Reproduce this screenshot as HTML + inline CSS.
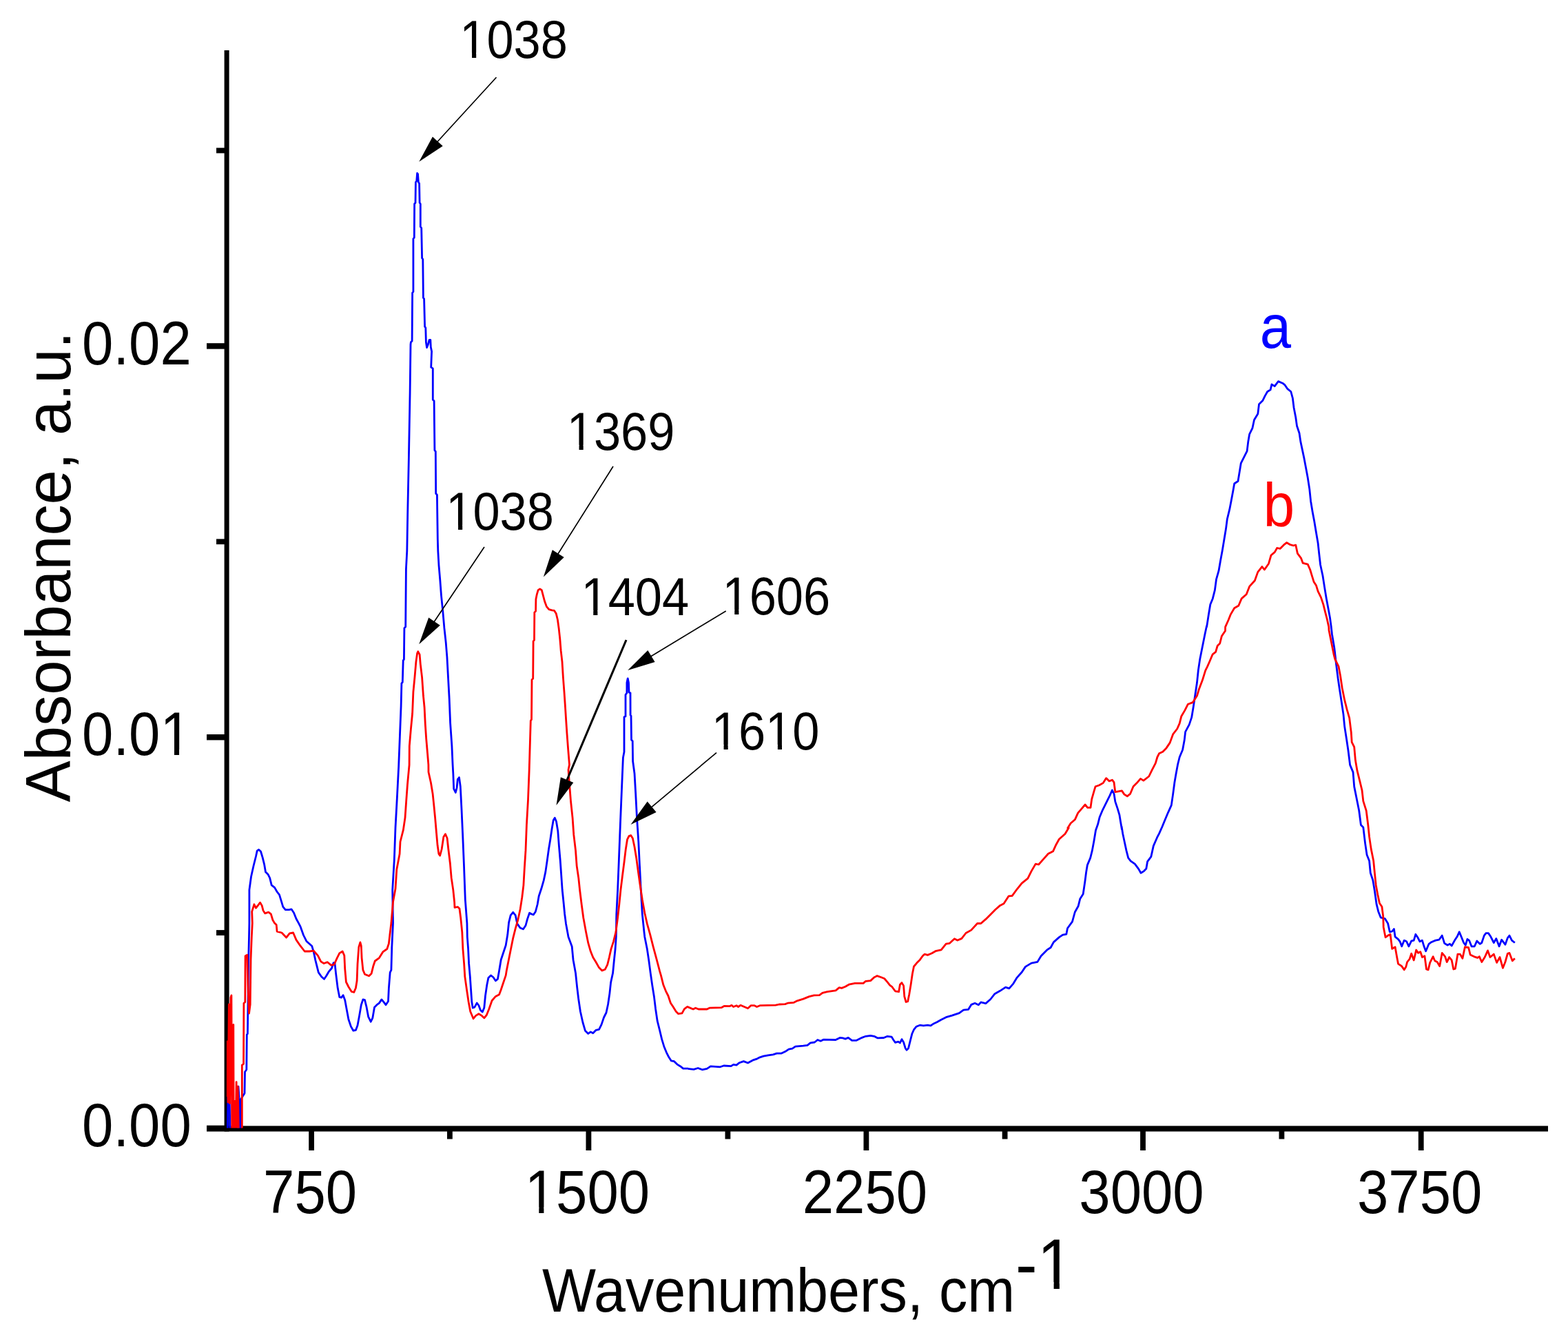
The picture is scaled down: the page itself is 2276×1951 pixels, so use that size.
<!DOCTYPE html>
<html lang="en"><head><meta charset="utf-8"><title>FTIR absorbance spectra</title>
<style>
html,body{margin:0;padding:0;background:#fff;}
body{width:2276px;height:1951px;overflow:hidden;}
svg{display:block;}
text{font-family:"Liberation Sans", sans-serif;}
</style></head><body>
<svg width="2276" height="1951" viewBox="0 0 2276 1951">
<rect width="2276" height="1951" fill="#fff"/>
<defs><clipPath id="plot"><rect x="328.9" y="0" width="2276" height="1637.6"/></clipPath></defs>

<g fill="#000">
<rect x="325.6" y="73" width="7.0" height="1569.5"/>
<rect x="300" y="1633.7" width="29.1" height="8.4"/>
<rect x="300" y="1066.0" width="29.1" height="8.4"/>
<rect x="300" y="498.2" width="29.1" height="8.4"/>
<rect x="314" y="1350.1" width="15.1" height="7.8"/>
<rect x="314" y="782.4" width="15.1" height="7.8"/>
<rect x="314" y="214.6" width="15.1" height="7.8"/>
</g>
<g fill="#000">
<rect x="300" y="1634.4" width="1947" height="8.1"/>
<rect x="448.2" y="1638.4" width="7.8" height="31.6"/>
<rect x="850.5" y="1638.4" width="7.8" height="31.6"/>
<rect x="1253.5" y="1638.4" width="7.8" height="31.6"/>
<rect x="1655.1" y="1638.4" width="7.8" height="31.6"/>
<rect x="2058.8" y="1638.4" width="7.8" height="31.6"/>
<rect x="649.0" y="1638.4" width="7.8" height="15.1"/>
<rect x="1052.5" y="1638.4" width="7.8" height="15.1"/>
<rect x="1454.7" y="1638.4" width="7.8" height="15.1"/>
<rect x="1856.5" y="1638.4" width="7.8" height="15.1"/>
</g>
<g clip-path="url(#plot)" fill="none" stroke-linejoin="round" stroke-linecap="butt" stroke-width="2.8">
<path stroke="#0000ff" d="M330.3,1640.9 L331.0,1588.6 L333.3,1600.0 L333.9,1640.9 L345.4,1640.9 L346.0,1577.2 L347.0,1591.9 L348.3,1640.9 L349.6,1640.9 L349.0,1596.8 L355.0,1587.0 L355.5,1556.0 L357.8,1552.7 L358.3,1502.1 L359.4,1500.4 L359.9,1461.2 L360.7,1392.7 L361.5,1360.0 L361.9,1340.0 L361.9,1291.9 L364.5,1272.7 L368.0,1257.0 L371.5,1243.0 L373.2,1235.1 L375.5,1233.4 L378.5,1236.0 L381.1,1244.7 L383.7,1255.2 L385.5,1265.7 L389.0,1269.2 L391.6,1274.4 L394.2,1284.9 L398.6,1288.4 L402.1,1294.5 L405.5,1298.9 L408.2,1307.6 L410.8,1316.3 L414.3,1320.7 L419.5,1320.7 L423.0,1319.8 L426.5,1325.0 L430.0,1333.8 L433.5,1340.1 L436.1,1345.2 L440.5,1357.5 L444.8,1366.2 L452.7,1373.2 L455.3,1381.9 L457.9,1394.1 L462.3,1411.6 L466.6,1417.7 L470.5,1421.2 L473.6,1416.8 L477.1,1410.7 L481.5,1405.5 L484.1,1397.6 L485.9,1397.6 L487.6,1413.3 L490.2,1434.3 L492.8,1447.4 L495.5,1448.2 L498.1,1444.7 L500.7,1451.7 L503.3,1465.7 L505.9,1479.7 L509.4,1490.1 L512.9,1496.2 L516.4,1495.4 L519.0,1488.4 L521.6,1474.4 L524.3,1458.7 L526.9,1450.9 L529.5,1451.7 L532.1,1462.2 L534.7,1476.2 L538.2,1483.2 L540.8,1477.9 L543.5,1462.2 L547.0,1458.7 L550.4,1456.1 L553.9,1450.9 L557.4,1455.2 L560.0,1458.7 L563.5,1453.5 L564.4,1434.3 L566.2,1411.6 L567.9,1408.1 L568.8,1374.9 L570.5,1340.0 L569.7,1291.9 L572.3,1248.2 L574.0,1201.1 L576.3,1159.2 L578.7,1112.1 L582.1,1025.2 L582.9,992.0 L584.3,990.3 L585.2,958.9 L586.4,957.1 L586.9,911.7 L588.7,910.0 L589.4,826.2 L590.8,800.0 L591.7,746.2 L593.4,664.1 L595.1,569.8 L596.0,500.0 L596.4,496.8 L598.1,495.0 L598.6,425.2 L599.9,423.5 L599.9,346.6 L601.3,344.9 L601.6,296.0 L603.0,294.3 L603.4,264.6 L604.7,262.8 L605.6,251.5 L606.5,252.4 L607.4,264.6 L608.6,266.3 L609.1,294.3 L610.3,296.0 L610.3,329.2 L611.7,330.9 L612.6,374.6 L613.8,376.3 L614.4,432.2 L615.6,433.9 L616.6,474.1 L617.8,475.8 L618.4,496.8 L619.6,504.6 L621.3,500.3 L623.1,493.3 L624.8,493.3 L625.3,503.8 L626.6,510.1 L625.7,533.2 L628.3,534.9 L628.3,580.3 L630.1,582.1 L630.9,653.6 L632.3,655.4 L632.7,716.5 L634.4,718.2 L635.3,782.8 L635.8,800.0 L637.0,820.9 L638.8,841.9 L640.5,864.6 L642.8,887.3 L644.9,911.7 L647.2,932.7 L648.9,953.6 L650.5,983.3 L652.2,1014.7 L653.6,1049.7 L655.9,1082.8 L657.1,1110.1 L657.8,1122.5 L658.7,1145.2 L661.3,1150.5 L663.1,1143.5 L664.3,1131.3 L666.5,1128.6 L668.3,1141.7 L670.0,1174.9 L671.8,1215.1 L673.5,1257.0 L675.3,1305.8 L677.9,1340.1 L678.3,1360.0 L679.6,1377.5 L680.6,1398.4 L682.3,1417.6 L683.6,1436.8 L684.8,1454.3 L686.2,1463.0 L688.8,1462.1 L692.3,1456.0 L694.9,1459.5 L697.5,1466.5 L700.2,1469.1 L702.8,1463.0 L704.5,1445.5 L706.8,1429.8 L708.9,1419.4 L712.4,1415.9 L715.9,1418.5 L719.4,1423.7 L722.5,1421.1 L724.6,1408.9 L727.2,1393.3 L730.7,1382.8 L734.2,1372.3 L736.8,1356.6 L738.6,1339.2 L741.2,1328.7 L744.7,1324.3 L748.2,1328.7 L750.8,1340.9 L755.1,1347.0 L759.5,1348.8 L763.0,1343.5 L765.6,1333.9 L768.6,1325.2 L771.7,1327.0 L774.4,1327.8 L777.3,1323.5 L780.1,1313.0 L782.2,1300.8 L785.7,1290.3 L789.2,1278.1 L791.8,1265.9 L794.1,1250.1 L796.5,1232.7 L798.8,1218.7 L801.1,1203.0 L803.2,1190.8 L805.3,1187.3 L807.5,1192.5 L809.8,1206.5 L811.5,1229.2 L813.3,1250.1 L815.0,1274.6 L816.2,1292.0 L818.0,1309.5 L819.7,1327.0 L821.5,1340.9 L824.1,1354.9 L825.0,1360.0 L830.2,1374.0 L832.0,1393.2 L835.5,1412.4 L837.7,1433.3 L839.8,1450.8 L842.4,1468.2 L845.9,1484.0 L849.4,1496.2 L853.8,1500.5 L857.3,1497.9 L860.8,1499.7 L865.1,1495.3 L869.5,1494.4 L873.0,1487.4 L876.5,1477.0 L880.0,1470.0 L882.6,1457.8 L884.9,1442.1 L886.6,1426.3 L889.6,1412.4 L891.3,1394.9 L893.1,1377.5 L894.3,1360.0 L894.8,1327.0 L896.6,1292.0 L898.3,1250.1 L900.6,1190.8 L902.7,1140.2 L904.4,1100.0 L906.0,1091.4 L906.0,1040.8 L908.0,1039.9 L908.0,1008.5 L909.9,1005.9 L909.9,991.0 L911.2,984.9 L912.5,991.0 L913.0,1005.0 L915.0,1005.9 L915.1,1038.2 L916.0,1039.0 L916.5,1074.0 L918.2,1075.7 L918.6,1105.0 L921.0,1122.7 L922.7,1152.4 L924.5,1187.3 L926.8,1222.2 L928.5,1257.1 L930.3,1292.0 L932.3,1327.0 L935.0,1353.1 L935.8,1360.0 L939.3,1377.5 L941.9,1394.9 L944.2,1412.4 L946.7,1429.8 L949.5,1447.3 L951.6,1464.7 L954.2,1482.2 L957.7,1496.2 L960.6,1508.4 L963.8,1518.9 L967.3,1527.6 L970.8,1534.6 L974.2,1539.8 L978.6,1540.7 L983.0,1545.1 L987.3,1547.7 L991.7,1551.2 L998.7,1551.2 L1000.0,1551.7 L1007.0,1552.3 L1013.1,1550.5 L1019.2,1552.8 L1026.2,1551.4 L1031.4,1547.9 L1045.4,1548.8 L1050.6,1547.0 L1061.1,1547.6 L1064.6,1545.3 L1069.0,1546.2 L1073.3,1542.7 L1079.4,1540.6 L1085.5,1543.0 L1092.5,1539.2 L1097.8,1537.4 L1103.0,1534.8 L1108.2,1533.1 L1115.2,1531.8 L1122.2,1530.8 L1127.4,1529.1 L1134.4,1529.1 L1139.7,1526.6 L1144.9,1523.1 L1150.1,1522.1 L1154.5,1519.1 L1165.9,1518.2 L1172.0,1517.4 L1176.3,1513.9 L1182.4,1513.0 L1186.8,1509.5 L1191.2,1511.2 L1195.5,1509.1 L1213.0,1509.5 L1219.1,1506.4 L1223.5,1506.9 L1227.0,1508.1 L1231.3,1506.4 L1236.6,1510.4 L1242.7,1510.4 L1249.7,1506.9 L1256.6,1504.3 L1263.6,1503.4 L1268.9,1504.3 L1274.1,1506.9 L1282.8,1506.5 L1288.1,1504.3 L1294.2,1505.1 L1296.8,1509.5 L1299.4,1513.3 L1303.8,1512.1 L1306.4,1513.9 L1309.0,1508.6 L1311.6,1513.0 L1314.2,1521.7 L1316.0,1524.3 L1318.6,1521.7 L1321.2,1511.2 L1323.8,1500.8 L1326.5,1494.7 L1330.0,1490.3 L1335.2,1488.2 L1340.4,1488.9 L1346.5,1488.2 L1350.9,1488.9 L1355.3,1485.9 L1360.0,1483.7 L1366.2,1480.2 L1373.2,1476.7 L1381.9,1474.1 L1392.4,1470.6 L1398.5,1466.2 L1405.5,1465.4 L1409.8,1458.4 L1415.1,1456.3 L1420.3,1458.7 L1423.8,1454.9 L1430.8,1456.6 L1437.8,1450.5 L1443.9,1442.7 L1451.7,1438.3 L1459.6,1433.1 L1464.8,1434.8 L1470.9,1427.8 L1476.2,1419.1 L1483.2,1411.2 L1488.4,1403.4 L1497.1,1398.1 L1505.9,1396.4 L1511.1,1387.7 L1519.8,1378.9 L1525.1,1375.5 L1529.4,1367.6 L1537.3,1360.6 L1542.5,1357.1 L1547.8,1356.2 L1549.5,1347.5 L1556.5,1337.9 L1560.3,1324.0 L1565.2,1315.2 L1567.8,1304.7 L1572.2,1297.8 L1574.8,1280.3 L1576.6,1266.3 L1578.3,1255.9 L1582.7,1245.4 L1585.3,1234.9 L1587.9,1220.9 L1590.5,1205.2 L1593.5,1196.8 L1596.1,1186.3 L1600.5,1175.8 L1605.7,1165.4 L1610.9,1154.9 L1614.4,1147.0 L1617.0,1152.3 L1618.8,1163.6 L1622.3,1174.1 L1624.9,1182.8 L1626.6,1193.3 L1628.4,1203.8 L1628.1,1200.0 L1629.8,1210.5 L1632.4,1222.7 L1635.0,1234.9 L1637.7,1245.4 L1641.2,1249.8 L1647.3,1254.1 L1652.5,1261.1 L1656.0,1267.2 L1660.4,1264.6 L1663.8,1261.1 L1665.6,1250.6 L1670.8,1243.6 L1674.3,1227.9 L1679.6,1215.7 L1682.5,1210.1 L1686.9,1200.3 L1691.2,1189.8 L1695.6,1179.3 L1700.3,1168.9 L1702.6,1153.1 L1704.9,1135.7 L1707.0,1123.5 L1709.6,1109.5 L1712.2,1099.0 L1716.6,1088.5 L1719.2,1074.6 L1720.6,1062.4 L1726.2,1051.9 L1729.7,1041.4 L1732.3,1025.7 L1734.9,1008.2 L1737.5,990.8 L1739.3,973.3 L1741.9,955.9 L1745.4,938.4 L1748.9,920.9 L1751.5,908.7 L1751.6,910.1 L1754.2,893.3 L1756.8,877.6 L1760.3,868.9 L1763.4,856.6 L1765.5,840.9 L1769.0,828.7 L1771.7,813.0 L1774.3,799.0 L1776.9,783.3 L1779.5,767.6 L1781.3,753.6 L1784.7,739.7 L1787.4,725.7 L1790.0,711.7 L1791.7,702.0 L1797.0,698.5 L1799.6,682.8 L1801.3,672.3 L1805.7,663.6 L1810.1,654.9 L1811.8,640.9 L1813.6,630.4 L1817.9,621.7 L1820.5,609.5 L1825.8,600.8 L1827.5,586.8 L1832.8,581.6 L1836.2,574.6 L1839.7,568.5 L1844.1,565.9 L1845.9,558.0 L1850.2,560.6 L1855.5,553.6 L1861.6,556.2 L1865.1,558.9 L1868.5,564.1 L1873.8,568.5 L1876.4,578.1 L1878.1,592.0 L1880.8,606.0 L1882.5,618.2 L1886.0,628.7 L1887.8,640.9 L1890.4,653.1 L1893.0,665.4 L1895.6,679.3 L1898.2,693.3 L1900.8,710.1 L1902.6,727.4 L1905.2,743.2 L1907.8,757.1 L1910.4,772.8 L1913.1,788.5 L1914.8,804.3 L1916.6,820.0 L1920.0,835.7 L1922.7,853.1 L1925.3,868.9 L1927.9,882.8 L1930.5,896.8 L1932.3,910.1 L1933.4,920.2 L1936.9,941.1 L1939.5,963.8 L1942.1,984.7 L1944.7,1002.2 L1947.4,1019.7 L1950.0,1037.1 L1951.7,1054.6 L1954.4,1072.0 L1957.0,1089.5 L1959.6,1110.4 L1964.0,1120.9 L1965.7,1141.9 L1969.2,1159.3 L1972.7,1176.8 L1975.4,1197.5 L1978.8,1200.9 L1981.5,1223.6 L1984.1,1241.1 L1987.6,1249.8 L1989.3,1267.3 L1992.8,1277.8 L1995.4,1293.5 L1998.1,1312.7 L2000.7,1323.2 L2004.2,1331.9 L2010.3,1333.6 L2014.6,1340.6 L2017.3,1352.8 L2020.7,1352.0 L2023.4,1348.5 L2025.1,1359.8 L2029.5,1363.3 L2032.1,1366.8 L2034.7,1373.8 L2038.2,1365.1 L2041.7,1366.8 L2044.8,1373.8 L2048.7,1365.9 L2052.2,1365.1 L2054.8,1356.3 L2058.3,1361.6 L2060.9,1366.8 L2064.4,1365.1 L2067.0,1373.8 L2069.6,1380.8 L2074.0,1370.3 L2077.5,1367.7 L2083.6,1365.1 L2088.8,1364.2 L2093.2,1358.1 L2096.7,1369.4 L2101.1,1372.0 L2104.5,1370.3 L2107.2,1372.9 L2111.5,1365.1 L2115.0,1359.8 L2118.2,1352.8 L2121.1,1359.8 L2124.6,1368.5 L2127.2,1372.0 L2129.9,1363.3 L2132.5,1365.1 L2136.0,1373.8 L2140.3,1373.8 L2143.8,1365.9 L2148.2,1370.3 L2150.8,1368.5 L2154.3,1358.1 L2156.9,1354.6 L2160.4,1354.6 L2163.9,1359.8 L2168.3,1368.5 L2171.8,1362.4 L2176.1,1373.8 L2179.6,1364.2 L2184.9,1371.2 L2188.3,1361.6 L2191.0,1358.1 L2194.5,1365.1 L2198.8,1368.5"/>
<path stroke="#ff0000" d="M329.4,1591.9 L329.7,1511.9 L331.0,1600.0 L332.3,1458.0 L333.5,1601.7 L334.3,1547.8 L334.9,1448.2 L335.9,1444.9 L336.7,1640.9 L337.5,1489.0 L338.8,1487.4 L339.2,1640.9 L340.8,1598.4 L342.1,1640.9 L343.1,1570.6 L344.1,1640.9 L345.2,1577.2 L346.4,1640.9 L351.3,1640.9 L351.3,1546.2 L353.5,1544.5 L353.9,1456.3 L355.8,1454.7 L356.1,1387.8 L358.8,1386.1 L359.9,1430.2 L361.5,1471.0 L363.2,1458.0 L364.0,1392.7 L365.3,1360.0 L366.3,1340.0 L365.7,1323.3 L368.9,1312.8 L371.5,1318.1 L375.0,1313.7 L377.6,1310.2 L380.2,1314.6 L382.0,1321.6 L384.6,1325.9 L389.8,1324.2 L393.3,1326.8 L395.9,1335.5 L398.6,1340.1 L401.2,1342.6 L402.1,1352.2 L409.0,1354.0 L415.7,1360.9 L420.4,1354.8 L425.6,1354.0 L430.0,1364.4 L436.1,1373.2 L442.2,1381.0 L449.2,1381.0 L455.3,1380.2 L461.4,1387.1 L465.8,1395.9 L470.1,1398.5 L475.4,1396.7 L480.6,1401.1 L485.0,1400.2 L489.3,1390.6 L492.8,1383.6 L497.2,1381.0 L499.8,1387.1 L500.7,1406.3 L502.4,1425.5 L505.9,1432.5 L510.3,1439.5 L513.8,1440.4 L516.4,1434.3 L518.1,1423.8 L519.0,1399.4 L520.8,1374.9 L522.9,1367.9 L524.3,1373.2 L525.1,1390.6 L526.9,1408.1 L529.5,1414.2 L535.6,1416.8 L539.1,1413.3 L541.7,1402.8 L544.3,1395.0 L550.4,1390.6 L555.7,1381.9 L561.8,1377.5 L564.4,1369.7 L566.2,1354.0 L567.9,1340.0 L570.5,1309.3 L574.0,1290.1 L575.8,1262.2 L580.1,1239.5 L581.0,1222.0 L585.4,1204.6 L588.0,1187.1 L589.7,1162.7 L591.5,1138.2 L594.1,1110.3 L594.3,1082.8 L596.4,1058.4 L598.6,1035.7 L599.9,1004.3 L602.1,981.6 L603.9,960.6 L605.6,948.4 L606.8,945.8 L609.1,950.1 L610.3,964.1 L612.6,983.3 L614.4,1009.5 L616.1,1027.0 L617.3,1051.4 L618.7,1072.3 L620.5,1093.3 L621.9,1110.1 L622.0,1120.8 L625.5,1136.5 L628.1,1152.2 L629.9,1169.7 L631.6,1187.1 L633.4,1208.1 L635.1,1227.3 L636.9,1239.5 L638.6,1242.1 L641.2,1232.5 L643.8,1215.1 L646.5,1210.7 L649.1,1216.8 L650.8,1232.5 L653.4,1253.5 L655.2,1274.4 L657.8,1291.9 L659.6,1309.3 L660.0,1317.4 L664.4,1316.5 L667.0,1319.1 L668.7,1332.2 L670.8,1353.1 L671.9,1377.5 L673.6,1398.4 L674.8,1417.6 L677.5,1436.8 L680.1,1454.3 L682.7,1468.2 L687.1,1478.7 L690.6,1474.4 L694.9,1471.7 L699.3,1474.4 L702.8,1477.8 L706.3,1473.5 L709.8,1464.7 L714.1,1452.5 L719.4,1446.4 L724.6,1443.8 L727.2,1436.8 L730.7,1426.3 L734.2,1415.9 L735.1,1410.1 L737.7,1396.8 L741.2,1379.3 L744.7,1361.9 L748.2,1347.9 L751.7,1335.7 L755.1,1320.0 L757.8,1302.5 L759.9,1285.1 L761.3,1260.6 L763.0,1234.4 L764.4,1197.8 L766.5,1161.1 L768.2,1117.5 L770.3,1046.2 L771.5,1044.4 L772.0,986.8 L773.7,985.1 L774.1,930.9 L775.5,929.2 L775.8,889.0 L777.6,887.3 L777.9,869.8 L779.3,862.8 L781.1,856.7 L783.7,855.0 L786.3,856.7 L788.4,864.6 L790.7,873.3 L793.3,880.3 L796.8,884.7 L801.2,885.9 L804.6,886.4 L807.3,890.8 L809.4,899.5 L811.1,911.7 L812.8,927.4 L814.2,944.9 L816.0,960.6 L817.4,983.3 L819.1,1006.0 L820.4,1025.2 L821.6,1044.4 L823.0,1065.4 L824.7,1088.1 L826.5,1110.1 L825.0,1117.5 L826.7,1140.2 L828.5,1162.8 L831.1,1187.3 L832.8,1211.7 L835.5,1234.4 L837.2,1257.1 L839.8,1274.6 L841.6,1292.0 L844.2,1313.0 L846.8,1332.2 L850.3,1351.4 L853.8,1368.9 L857.3,1381.1 L860.8,1389.8 L865.1,1396.8 L869.5,1404.6 L873.9,1409.0 L878.2,1407.3 L881.7,1400.3 L884.3,1389.8 L887.0,1377.6 L890.4,1367.1 L893.9,1353.1 L896.6,1332.2 L898.8,1313.0 L900.9,1292.0 L903.5,1271.1 L906.2,1250.1 L908.3,1232.7 L910.5,1218.7 L913.1,1213.5 L915.8,1212.6 L918.4,1217.0 L921.0,1229.2 L923.6,1244.9 L926.2,1264.1 L928.9,1283.3 L932.3,1306.0 L935.8,1325.2 L939.3,1340.9 L943.7,1356.6 L948.1,1374.1 L953.3,1393.3 L957.7,1410.1 L959.4,1415.9 L962.9,1429.8 L966.4,1438.6 L969.9,1445.5 L973.4,1456.0 L976.9,1461.3 L981.2,1468.2 L984.7,1471.7 L990.0,1470.9 L993.4,1464.7 L997.8,1461.3 L1000.0,1462.4 L1006.1,1465.0 L1009.6,1463.2 L1014.0,1465.0 L1026.2,1465.0 L1029.7,1463.2 L1047.1,1462.7 L1051.5,1460.3 L1059.4,1460.6 L1062.0,1459.2 L1064.6,1461.5 L1069.0,1459.7 L1071.6,1461.5 L1075.1,1459.2 L1080.3,1461.5 L1085.5,1463.8 L1089.9,1459.7 L1095.1,1459.7 L1098.6,1461.5 L1103.0,1459.7 L1125.7,1459.2 L1130.9,1458.0 L1139.7,1457.6 L1143.2,1456.2 L1151.9,1455.4 L1157.1,1452.8 L1165.9,1450.1 L1174.6,1446.6 L1181.6,1444.9 L1189.4,1444.6 L1193.8,1441.4 L1200.8,1439.7 L1213.0,1437.9 L1218.2,1433.6 L1221.7,1434.4 L1227.0,1432.3 L1232.2,1429.2 L1240.9,1427.4 L1253.1,1427.4 L1256.6,1424.3 L1263.6,1423.6 L1268.9,1418.7 L1273.2,1416.6 L1279.3,1418.7 L1283.7,1420.5 L1288.1,1425.7 L1291.6,1430.1 L1295.0,1432.7 L1299.4,1438.8 L1304.6,1439.7 L1306.4,1429.2 L1309.0,1426.6 L1311.6,1430.9 L1312.8,1446.6 L1315.1,1454.5 L1317.7,1453.6 L1319.8,1443.2 L1322.1,1429.2 L1324.4,1413.5 L1326.5,1403.0 L1330.8,1397.8 L1335.2,1393.4 L1339.6,1387.3 L1342.2,1385.2 L1346.5,1386.4 L1352.7,1383.8 L1357.9,1380.7 L1366.2,1378.9 L1373.2,1370.2 L1378.4,1369.3 L1385.4,1362.7 L1389.8,1365.0 L1395.9,1362.4 L1402.0,1354.5 L1409.8,1350.1 L1418.6,1340.5 L1423.8,1340.5 L1430.8,1334.4 L1437.8,1327.4 L1444.7,1320.5 L1451.7,1314.4 L1457.0,1311.7 L1464.0,1300.9 L1469.2,1300.4 L1476.2,1290.8 L1483.2,1282.1 L1491.9,1275.1 L1497.1,1264.6 L1503.2,1254.1 L1507.6,1255.0 L1514.6,1247.1 L1521.6,1239.3 L1528.5,1235.8 L1532.9,1226.2 L1537.3,1218.3 L1546.0,1210.5 L1551.2,1201.7 L1549.8,1202.0 L1554.2,1195.0 L1560.3,1189.8 L1564.7,1180.2 L1569.9,1174.1 L1575.1,1168.0 L1578.6,1172.3 L1583.0,1172.3 L1584.7,1160.1 L1588.2,1147.9 L1590.0,1141.8 L1595.2,1140.0 L1601.3,1136.6 L1605.7,1129.6 L1610.1,1133.9 L1614.4,1132.2 L1617.0,1135.7 L1618.8,1149.7 L1623.2,1148.8 L1628.4,1147.9 L1631.9,1153.1 L1636.2,1155.8 L1640.6,1152.3 L1645.0,1141.8 L1650.2,1136.6 L1655.5,1130.4 L1659.8,1133.1 L1667.7,1127.0 L1672.0,1118.2 L1677.3,1107.8 L1679.9,1099.0 L1682.5,1093.8 L1687.8,1091.2 L1693.0,1085.9 L1698.2,1078.1 L1702.6,1065.9 L1708.7,1058.0 L1712.2,1050.1 L1714.8,1039.7 L1720.0,1030.9 L1724.4,1022.2 L1731.4,1019.6 L1737.5,1010.0 L1740.1,1001.3 L1745.4,987.3 L1749.7,973.3 L1752.3,968.1 L1755.8,960.2 L1760.2,949.8 L1764.6,946.3 L1767.2,937.5 L1770.7,934.0 L1773.3,923.6 L1778.5,915.7 L1778.6,910.1 L1783.0,900.3 L1786.5,891.6 L1791.7,882.8 L1797.8,879.3 L1802.2,868.9 L1809.2,862.7 L1813.6,851.4 L1821.4,842.7 L1825.8,830.4 L1831.9,822.6 L1835.4,827.0 L1841.5,818.2 L1845.0,806.0 L1850.2,801.6 L1853.7,795.5 L1858.1,796.4 L1863.3,791.2 L1867.7,787.7 L1872.0,790.3 L1877.3,792.0 L1880.8,791.2 L1883.4,803.4 L1888.6,810.4 L1891.2,817.4 L1898.2,819.1 L1901.7,827.0 L1904.3,835.7 L1907.0,844.4 L1910.4,849.7 L1913.1,858.4 L1917.4,867.1 L1920.9,877.6 L1923.5,888.1 L1926.2,898.5 L1928.8,910.1 L1929.0,914.9 L1932.5,932.4 L1936.0,949.8 L1937.8,956.8 L1943.0,967.3 L1945.6,981.3 L1948.2,998.7 L1951.7,1016.2 L1955.2,1030.1 L1958.7,1042.4 L1961.3,1063.3 L1962.2,1077.3 L1965.7,1084.3 L1967.4,1103.5 L1970.1,1119.2 L1973.6,1133.1 L1977.0,1147.1 L1978.8,1162.8 L1983.2,1176.8 L1985.8,1197.5 L1987.6,1214.9 L1990.2,1232.4 L1993.7,1249.8 L1995.4,1267.3 L1997.2,1284.7 L1999.8,1298.7 L2002.4,1310.9 L2005.9,1316.2 L2007.7,1330.1 L2008.2,1345.9 L2011.1,1360.7 L2014.6,1358.1 L2018.1,1356.3 L2020.7,1377.3 L2025.1,1374.7 L2027.7,1389.5 L2029.5,1399.1 L2034.7,1402.6 L2038.2,1407.8 L2040.8,1403.5 L2042.6,1396.5 L2046.1,1392.1 L2048.7,1384.3 L2052.2,1393.9 L2055.7,1379.0 L2058.3,1383.4 L2061.8,1381.6 L2064.4,1389.5 L2067.9,1387.8 L2070.5,1407.0 L2073.1,1407.8 L2075.7,1397.4 L2080.1,1388.6 L2082.7,1394.7 L2086.2,1396.5 L2089.7,1402.6 L2093.2,1383.4 L2097.6,1388.6 L2100.2,1396.5 L2103.7,1389.5 L2107.2,1393.9 L2109.8,1407.0 L2112.4,1406.1 L2115.9,1385.1 L2119.4,1385.1 L2122.9,1391.2 L2126.4,1374.7 L2131.6,1375.5 L2134.2,1386.0 L2139.5,1388.6 L2144.7,1390.4 L2147.3,1388.6 L2150.8,1396.5 L2155.2,1389.5 L2159.5,1379.9 L2163.0,1389.5 L2168.3,1385.1 L2172.6,1397.4 L2177.0,1389.5 L2181.4,1405.2 L2184.9,1396.5 L2188.3,1384.3 L2191.0,1383.4 L2195.3,1394.7 L2198.8,1391.2"/>
</g>
<g transform="translate(119.10,1664.00) scale(1,1.1000)"><text font-size="81.5" fill="#000">0.00</text></g>
<g transform="translate(119.10,1096.25) scale(1,1.1000)"><text font-size="81.5" fill="#000">0.01</text><rect x="117.78" y="-7.33" width="16.07" height="8.96" fill="#fff"/><rect x="140.95" y="-7.33" width="15.13" height="8.96" fill="#fff"/></g>
<g transform="translate(119.10,528.50) scale(1,1.1000)"><text font-size="81.5" fill="#000">0.02</text></g>
<g transform="translate(382.11,1760.60) scale(1,1.1000)"><text font-size="81.5" fill="#000">750</text></g>
<g transform="translate(761.75,1760.60) scale(1,1.1000)"><text font-size="81.5" fill="#000">1500</text><rect x="4.48" y="-7.33" width="16.07" height="8.96" fill="#fff"/><rect x="27.65" y="-7.33" width="15.13" height="8.96" fill="#fff"/></g>
<g transform="translate(1164.75,1760.60) scale(1,1.1000)"><text font-size="81.5" fill="#000">2250</text></g>
<g transform="translate(1566.35,1760.60) scale(1,1.1000)"><text font-size="81.5" fill="#000">3000</text></g>
<g transform="translate(1970.05,1760.60) scale(1,1.1000)"><text font-size="81.5" fill="#000">3750</text></g>
<g transform="translate(787.00,1904.10) scale(1,1.0850)"><text font-size="82.7" fill="#000">Wavenumbers, cm<tspan x="687.00" dy="-30.90" font-size="95.0">-1</tspan></text><rect x="723.86" y="-39.45" width="18.73" height="10.45" fill="#fff"/><rect x="750.87" y="-39.45" width="17.64" height="10.45" fill="#fff"/></g>
<g transform="translate(102.10,1164.50) rotate(-90) scale(1,1.0300)"><text font-size="90.4" fill="#000">Absorbance, a.u.</text></g>
<g transform="translate(1828.64,504.70) scale(1,1.1000)"><text font-size="81.5" fill="#0000ff">a</text></g>
<g transform="translate(1833.74,764.10) scale(1,1.1000)"><text font-size="81.5" fill="#ff0000">b</text></g>
<g transform="translate(667.30,83.60) scale(1,1.1150)"><text font-size="70.4" fill="#000">1038</text><rect x="3.87" y="-6.34" width="13.88" height="7.74" fill="#fff"/><rect x="23.89" y="-6.34" width="13.07" height="7.74" fill="#fff"/></g>
<g transform="translate(647.30,769.40) scale(1,1.1150)"><text font-size="70.4" fill="#000">1038</text><rect x="3.87" y="-6.34" width="13.88" height="7.74" fill="#fff"/><rect x="23.89" y="-6.34" width="13.07" height="7.74" fill="#fff"/></g>
<g transform="translate(822.80,653.00) scale(1,1.1150)"><text font-size="70.4" fill="#000">1369</text><rect x="3.87" y="-6.34" width="13.88" height="7.74" fill="#fff"/><rect x="23.89" y="-6.34" width="13.07" height="7.74" fill="#fff"/></g>
<g transform="translate(843.50,893.00) scale(1,1.1150)"><text font-size="70.4" fill="#000">1404</text><rect x="3.87" y="-6.34" width="13.88" height="7.74" fill="#fff"/><rect x="23.89" y="-6.34" width="13.07" height="7.74" fill="#fff"/></g>
<g transform="translate(1048.50,892.00) scale(1,1.1150)"><text font-size="70.4" fill="#000">1606</text><rect x="3.87" y="-6.34" width="13.88" height="7.74" fill="#fff"/><rect x="23.89" y="-6.34" width="13.07" height="7.74" fill="#fff"/></g>
<g transform="translate(1032.80,1088.00) scale(1,1.1150)"><text font-size="70.4" fill="#000">1610</text><rect x="3.87" y="-6.34" width="13.88" height="7.74" fill="#fff"/><rect x="23.89" y="-6.34" width="13.07" height="7.74" fill="#fff"/><rect x="82.18" y="-6.34" width="13.88" height="7.74" fill="#fff"/><rect x="102.19" y="-6.34" width="13.07" height="7.74" fill="#fff"/></g>
<line x1="720.5" y1="112.3" x2="634.0" y2="206.8" stroke="#000" stroke-width="1.7"/>
<polygon fill="#000" points="608.3,234.8 627.9,198.5 642.7,212.1"/>
<line x1="703.0" y1="794.0" x2="629.4" y2="903.7" stroke="#000" stroke-width="1.7"/>
<polygon fill="#000" points="608.2,935.3 622.2,896.5 638.8,907.7"/>
<line x1="890.0" y1="677.0" x2="809.2" y2="805.3" stroke="#000" stroke-width="1.7"/>
<polygon fill="#000" points="788.9,837.5 801.8,798.3 818.7,809.0"/>
<line x1="909.0" y1="929.0" x2="822.3" y2="1134.0" stroke="#000" stroke-width="3.1"/>
<polygon fill="#000" points="807.5,1169.0 813.9,1128.3 832.3,1136.1"/>
<line x1="1053.7" y1="887.0" x2="943.7" y2="953.4" stroke="#000" stroke-width="1.7"/>
<polygon fill="#000" points="911.2,973.1 940.3,943.9 950.6,961.0"/>
<line x1="1040.0" y1="1092.6" x2="944.6" y2="1172.6" stroke="#000" stroke-width="1.7"/>
<polygon fill="#000" points="915.5,1197.0 939.7,1163.6 952.6,1179.0"/>
</svg></body></html>
